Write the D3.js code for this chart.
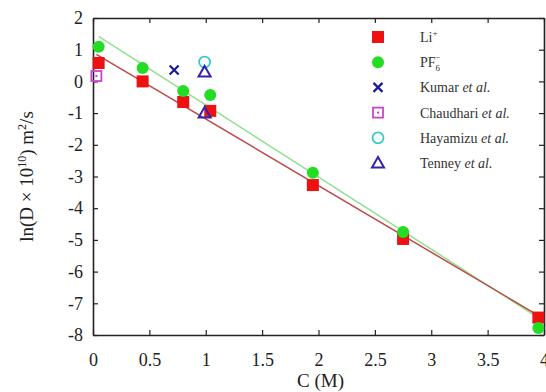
<!DOCTYPE html>
<html>
<head>
<meta charset="utf-8">
<script src="https://cdn.jsdelivr.net/npm/d3@7"></script>
<style>
  body { margin: 0; background: #fff; }
  svg, svg text { font-family: "Liberation Serif", "Times New Roman", serif; }
</style>
</head>
<body>
<div id="chart"></div>
<script>
// data
var conc = [0.05, 0.44, 0.80, 1.04, 1.95, 2.75, 3.95];
var liVals = [0.58, 0.0, -0.65, -0.93, -3.27, -4.97, -7.45];
var pfVals = [1.09, 0.42, -0.30, -0.43, -2.88, -4.75, -7.78];
// fitted lines (endpoints)
var liFit = [[0.03, 0.85], [4.0, -7.49]];
var pfFit = [[0.05, 1.42], [4.0, -7.57]];
// literature points
var kumar = [[0.72, 0.36]];
var chaudhari = [[0.03, 0.17]];
var hayamizu = [[0.99, 0.61]];
var tenney = [[0.99, 0.30], [0.99, -1.0]];

var xTicks = [0, 0.5, 1, 1.5, 2, 2.5, 3, 3.5, 4];
var yTicks = [2, 1, 0, -1, -2, -3, -4, -5, -6, -7, -8];

var svgWidth = 546, svgHeight = 392;
var margin = {top: 18, right: 2, bottom: 57, left: 93};
var width = svgWidth - margin.left - margin.right;
var height = svgHeight - margin.top - margin.bottom;

var svg = d3.select("#chart").append("svg")
    .attr("width", svgWidth)
    .attr("height", svgHeight);

var g = svg.append("g")
    .attr("transform", `translate(${margin.left},${margin.top})`);

var xScale = d3.scaleLinear().domain([0, 4]).range([0, width]);
var yScale = d3.scaleLinear().domain([-8, 2]).range([height, 0]);

// axes: ticks pointing inward, all four sides
var tickLen = 5;
g.append("g").attr("class", "axis xAxis")
    .attr("transform", `translate(0,${height})`)
    .call(d3.axisBottom(xScale).tickValues(xTicks).tickSizeInner(-tickLen).tickSizeOuter(0).tickPadding(18)
        .tickFormat(d => String(d)));
g.append("g").attr("class", "axis xTop")
    .call(d3.axisTop(xScale).tickValues(xTicks).tickSizeInner(-tickLen).tickSizeOuter(0).tickFormat(""));
g.append("g").attr("class", "axis yAxis")
    .call(d3.axisLeft(yScale).tickValues(yTicks).tickSizeInner(-tickLen).tickSizeOuter(0).tickPadding(10)
        .tickFormat(d => String(d)));
g.append("g").attr("class", "axis yRight")
    .attr("transform", `translate(${width},0)`)
    .call(d3.axisRight(yScale).tickValues(yTicks).tickSizeInner(-tickLen).tickSizeOuter(0).tickFormat(""));

g.selectAll(".axis").attr("font-family", "Liberation Serif").attr("font-size", 18);
g.selectAll(".domain").attr("stroke", "#222").attr("stroke-width", 1.6);
g.selectAll(".tick line").attr("stroke", "#222").attr("stroke-width", 1.2);
g.selectAll(".tick text")
    .attr("font-family", "Liberation Serif")
    .attr("font-size", 18)
    .attr("fill", "#222");

// axis titles
svg.append("text")
    .attr("x", margin.left + xScale(2) + 2)
    .attr("y", 387)
    .attr("text-anchor", "middle")
    .attr("font-size", "19px")
    .attr("fill", "#222")
    .text("C (M)");

var yl = svg.append("text")
    .attr("transform", `translate(33,${margin.top + yScale(-3)}) rotate(-90)`)
    .attr("text-anchor", "middle")
    .attr("font-size", "19px")
    .attr("fill", "#222");
yl.append("tspan").text("ln(D \u00d7 10");
yl.append("tspan").attr("dy", -7).attr("font-size", "12px").text("10");
yl.append("tspan").attr("dy", 7).text(") m");
yl.append("tspan").attr("dy", -7).attr("font-size", "12px").text("2");
yl.append("tspan").attr("dy", 7).text("/s");

// fit lines
var line = d3.line().x(d => xScale(d[0])).y(d => yScale(d[1]));
g.append("path").datum(pfFit).attr("d", line)
    .attr("fill", "none").attr("stroke", "#8fe08f").attr("stroke-width", 1.5);
g.append("path").datum(liFit).attr("d", line)
    .attr("fill", "none").attr("stroke", "#c04848").attr("stroke-width", 1.5);

// marker drawers
var red = "#ee1111", green = "#22dd22", blue = "#1a1a9a", pink = "#cc44cc", cyan = "#33cccc", purple = "#3322aa";
function square(sel, x, y) {
  sel.append("rect").attr("x", x - 6).attr("y", y - 6).attr("width", 12).attr("height", 12).attr("fill", red);
}
function dot(sel, x, y) {
  sel.append("circle").attr("cx", x).attr("cy", y).attr("r", 6).attr("fill", green);
}
function cross(sel, x, y) {
  var s = 4.5;
  sel.append("path").attr("d", `M${x - s},${y - s}L${x + s},${y + s}M${x - s},${y + s}L${x + s},${y - s}`)
      .attr("stroke", blue).attr("stroke-width", 2.2).attr("fill", "none");
}
function openSquare(sel, x, y) {
  sel.append("rect").attr("x", x - 5).attr("y", y - 5).attr("width", 10).attr("height", 10)
      .attr("fill", "none").attr("stroke", pink).attr("stroke-width", 1.8);
  sel.append("rect").attr("x", x - 1).attr("y", y - 1).attr("width", 2).attr("height", 2).attr("fill", pink);
}
function openCircle(sel, x, y) {
  sel.append("circle").attr("cx", x).attr("cy", y).attr("r", 5.5)
      .attr("fill", "none").attr("stroke", cyan).attr("stroke-width", 1.8);
}
function triangle(sel, x, y) {
  sel.append("path").attr("d", `M${x},${y - 6}L${x + 6},${y + 4.5}L${x - 6},${y + 4.5}Z`)
      .attr("fill", "none").attr("stroke", purple).attr("stroke-width", 2);
}

var marks = g.append("g");
conc.forEach((c, i) => square(marks, xScale(c), yScale(liVals[i])));
conc.forEach((c, i) => dot(marks, xScale(c), yScale(pfVals[i])));
kumar.forEach(d => cross(marks, xScale(d[0]), yScale(d[1])));
chaudhari.forEach(d => openSquare(marks, xScale(d[0]), yScale(d[1])));
hayamizu.forEach(d => openCircle(marks, xScale(d[0]), yScale(d[1])));
tenney.forEach(d => triangle(marks, xScale(d[0]), yScale(d[1])));

// legend
var legX = 378, legY = 37, legStep = 25.2, textX = 420;
var drawers = [square, dot, cross, openSquare, openCircle, triangle];
var leg = svg.append("g");
drawers.forEach((fn, i) => fn(leg, legX, legY + i * legStep));

function legText(i) {
  return leg.append("text").attr("x", textX).attr("y", legY + i * legStep + 5)
      .attr("font-size", "14px").attr("fill", "#333");
}
var t0 = legText(0);
t0.append("tspan").text("Li");
t0.append("tspan").attr("dy", -6).attr("font-size", "9px").text("+");
var t1 = legText(1);
t1.append("tspan").text("PF");
t1.append("tspan").attr("dy", 4).attr("font-size", "9px").text("6");
t1.append("tspan").attr("dx", -5).attr("dy", -11).attr("font-size", "9px").text("\u2212");
var names = ["Kumar", "Chaudhari", "Hayamizu", "Tenney"];
names.forEach((n, k) => {
  var t = legText(k + 2);
  t.append("tspan").text(n + " ");
  t.append("tspan").attr("font-style", "italic").text("et al.");
});
</script>
</body>
</html>
